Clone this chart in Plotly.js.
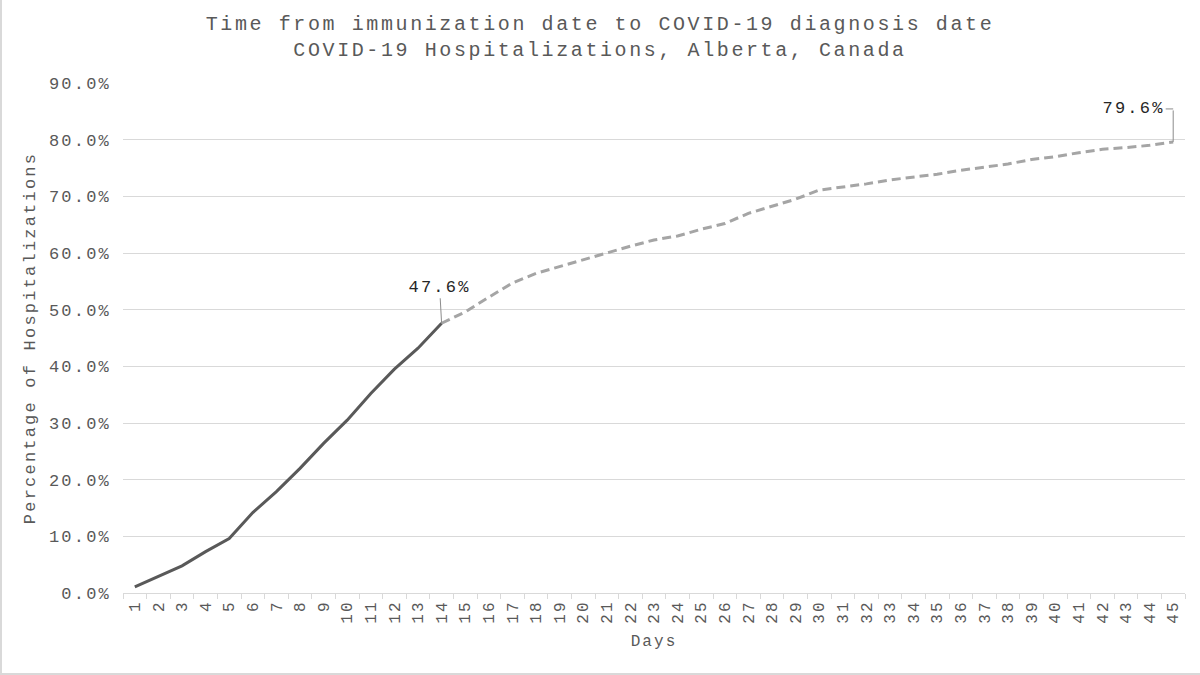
<!DOCTYPE html>
<html>
<head>
<meta charset="utf-8">
<script src="https://cdn.plot.ly/plotly-3.0.1.min.js"></script>
<style>
  html, body { margin: 0; padding: 0; background: #fff; }
  #chart { width: 1200px; height: 675px; box-shadow: inset 2px -2px 0 #d9d9d9; }
  /* the original uses a widely spaced mono face */
  #chart text { letter-spacing: 0.13em; }
</style>
</head>
<body>
<div id="chart"></div>
<script>
// days since immunization
const days = [];
for (let d = 1; d <= 45; d++) days.push(String(d));

// cumulative share of hospitalizations, days 1-14 (solid)
const firstDays = ["1", "2", "3", "4", "5", "6", "7", "8", "9", "10", "11", "12", "13", "14"];
const firstPct = [1.1, 3.0, 4.8, 7.3, 9.6, 14.2, 17.9, 22.0, 26.4, 30.5, 35.2, 39.5, 43.2, 47.6];

// days 14-45 (dashed)
const laterDays = ["14", "15", "16", "17", "18", "19", "20", "21", "22", "23", "24", "25", "26", "27", "28", "29", "30",
    "31", "32", "33", "34", "35", "36", "37", "38", "39", "40", "41", "42", "43", "44", "45"];
const laterPct = [47.6, 49.6, 52.2, 54.7, 56.4, 57.6, 58.9, 60.1, 61.2, 62.3, 63.0, 64.2, 65.2, 67.0, 68.3, 69.5, 71.1,
    71.6, 72.2, 72.9, 73.4, 73.9, 74.6, 75.1, 75.7, 76.5, 77.0, 77.7, 78.3, 78.6, 79.0, 79.6];

const yTicks = [0, 10, 20, 30, 40, 50, 60, 70, 80, 90];
const yTickText = yTicks.map(v => v.toFixed(1) + "%");

const font = "Liberation Mono, Courier New, monospace";
const grey = "#595959";
const leader = "#8c8c8c";

// category index of the labelled points
const midIdx = days.indexOf(firstDays[firstDays.length - 1]);
const midVal = firstPct[firstPct.length - 1];
const endIdx = days.indexOf(laterDays[laterDays.length - 1]);
const endVal = laterPct[laterPct.length - 1];

const trace1 = {
    x: firstDays,
    y: firstPct,
    mode: "lines",
    type: "scatter",
    line: { color: "#595959", width: 3 },
    hoverinfo: "skip",
};

const trace2 = {
    x: laterDays,
    y: laterPct,
    mode: "lines",
    type: "scatter",
    line: { color: "#a5a5a5", width: 3, dash: "9px,5px" },
    hoverinfo: "skip",
};

const layout = {
    width: 1200,
    height: 675,
    margin: { l: 123, r: 15, t: 83, b: 82 },
    paper_bgcolor: "rgba(0,0,0,0)",
    plot_bgcolor: "rgba(0,0,0,0)",
    showlegend: false,
    font: { family: font, color: grey, size: 16 },
    title: {
        text: "Time from immunization date to COVID-19 diagnosis date<br>COVID-19 Hospitalizations, Alberta, Canada",
        font: { family: font, size: 20, color: grey },
        x: 0.5,
        xanchor: "center",
        y: 0.955,
        yanchor: "middle",
        yref: "container",
    },
    xaxis: {
        type: "category",
        categoryorder: "array",
        categoryarray: days,
        range: [-0.5, 44.5],
        tickangle: -90,
        tickson: "boundaries",
        ticks: "outside",
        ticklen: 5,
        tickcolor: "#d9d9d9",
        showline: true,
        linecolor: "#d9d9d9",
        linewidth: 1,
        showgrid: false,
        tickfont: { family: font, size: 16, color: grey },
        title: { text: "Days", font: { family: font, size: 16, color: grey }, standoff: 16 },
    },
    yaxis: {
        range: [0, 90],
        tickvals: yTicks,
        ticktext: yTickText,
        showgrid: true,
        gridcolor: "#d9d9d9",
        gridwidth: 1,
        zeroline: false,
        showline: false,
        ticks: "",
        ticklabelstandoff: 11,
        tickfont: { family: font, size: 17, color: grey },
        title: { text: "Percentage of Hospitalizations", font: { family: font, size: 17, color: grey }, standoff: 20 },
    },
    annotations: [
        {
            x: midIdx,
            y: midVal,
            text: midVal.toFixed(1) + "%",
            showarrow: true,
            arrowhead: 0,
            arrowwidth: 1,
            arrowcolor: leader,
            ax: -2,
            ay: -36,
            font: { family: font, size: 17, color: "#262626" },
        },
        {
            x: endIdx,
            y: endVal,
            text: "",
            showarrow: true,
            arrowhead: 0,
            arrowwidth: 1,
            arrowcolor: leader,
            ax: 0,
            ay: -33,
        },
        {
            x: endIdx,
            y: endVal,
            yshift: 33,
            text: "",
            showarrow: true,
            arrowhead: 0,
            arrowwidth: 1,
            arrowcolor: leader,
            ax: -9,
            ay: 0,
        },
        {
            x: endIdx,
            y: endVal,
            text: endVal.toFixed(1) + "%",
            showarrow: false,
            xanchor: "right",
            yanchor: "middle",
            xshift: -11,
            yshift: 33,
            font: { family: font, size: 17, color: "#262626" },
        },
    ],
};

Plotly.newPlot("chart", [trace1, trace2], layout, { displayModeBar: false, staticPlot: true });
</script>
</body>
</html>
